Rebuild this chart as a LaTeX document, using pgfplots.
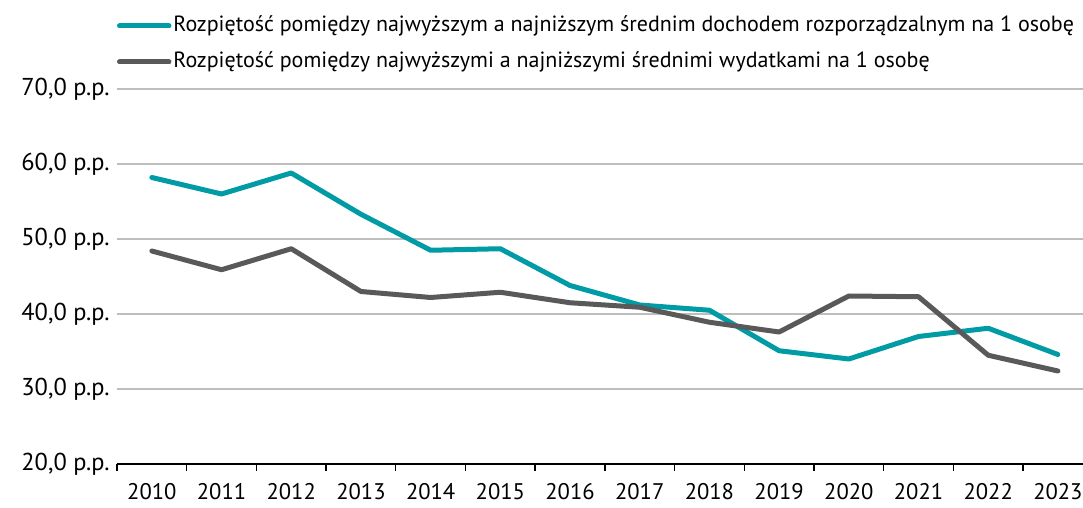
\documentclass[border=0pt]{standalone}
\usepackage{fontspec}
\setmainfont{PT Sans}
\usepackage{pgfplots}
\pgfplotsset{compat=1.18}
\definecolor{tealA}{RGB}{0,155,165}
\definecolor{grayA}{RGB}{89,89,89}
\definecolor{gridA}{RGB}{190,190,190}
\begin{document}
\fontsize{11pt}{13pt}\selectfont
\begin{tikzpicture}
\useasboundingbox (-58.5pt,-22pt) rectangle (483pt,232pt);
\begin{axis}[
  at={(0pt,0pt)}, anchor=south west,
  scale only axis, width=483pt, height=187.5pt,
  xmin=-0.5, xmax=13.36, ymin=20, ymax=70,
  separate axis lines,
  axis x line*=bottom, axis y line*=left,
  x axis line style={black, line width=0.7pt, -},
  y axis line style={draw=none},
  ytick={20,30,40,50,60,70},
  yticklabels={{20,0 p.p.},{30,0 p.p.},{40,0 p.p.},{50,0 p.p.},{60,0 p.p.},{70,0 p.p.}},
  ytick style={draw=none},
  ymajorgrids, grid style={gridA, line width=0.6pt},
  xtick={0,...,13},
  xticklabels={2010,2011,2012,2013,2014,2015,2016,2017,2018,2019,2020,2021,2022,2023},
  major x tick style={draw=none},
  minor xtick={-0.5,0.5,...,12.5},
  minor x tick style={black, line width=0.7pt},
  minor tick length=3.5pt, major tick length=0pt,
  tick align=outside,
  xticklabel shift=6pt,
  xticklabel style={font=\fontsize{11.3pt}{13pt}\selectfont, text depth=0pt},
  yticklabel style={anchor=east, inner sep=0pt, xshift=-3.5pt, font=\fontsize{12.2pt}{14pt}\selectfont},
  legend style={at={(0.0,1.196)}, anchor=north west, draw=none, fill=none,
    inner sep=0pt, outer sep=0pt, row sep=7.5pt, column sep=1pt,
    nodes={inner sep=0pt, text height=8pt, text depth=2.5pt}},
  legend cell align=left,
  legend image code/.code={\draw[#1, line cap=round] (1.25pt,0pt) -- (26pt,0pt);},
  clip=false,
]
\addplot[tealA, line width=2.5pt, line join=round, line cap=round] coordinates {
(0,58.2) (1,56.0) (2,58.8) (3,53.3) (4,48.5) (5,48.7) (6,43.8) (7,41.2) (8,40.5) (9,35.1) (10,34.0) (11,37.0) (12,38.1) (13,34.6)};
\addlegendentry{Rozpiętość pomiędzy najwyższym a najniższym średnim dochodem rozporządzalnym na 1 osobę}
\addplot[grayA, line width=2.5pt, line join=round, line cap=round] coordinates {
(0,48.4) (1,45.9) (2,48.7) (3,43.0) (4,42.2) (5,42.9) (6,41.5) (7,40.9) (8,38.9) (9,37.6) (10,42.4) (11,42.3) (12,34.5) (13,32.4)};
\addlegendentry{Rozpiętość pomiędzy najwyższymi a najniższymi średnimi wydatkami na 1 osobę}
\end{axis}
\end{tikzpicture}
\end{document}
